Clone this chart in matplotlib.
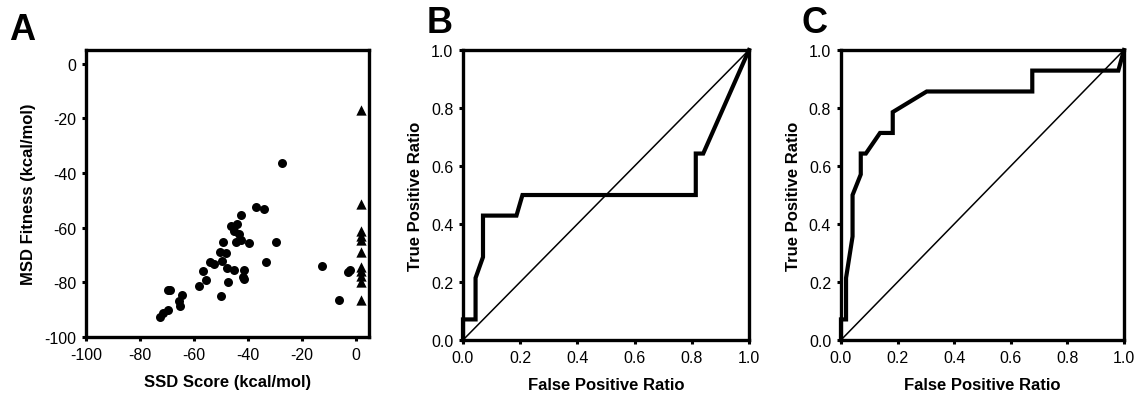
import matplotlib
matplotlib.use("Agg")
import matplotlib.pyplot as plt

plt.rcParams['font.family'] = ['Liberation Sans', 'DejaVu Sans']
plt.rcParams['axes.unicode_minus'] = False

# Panel A: SSD score vs MSD fitness
ssd_circles = [-27.3, -37.0, -33.8, -42.6, -46.2, -44.1, -45.0, -43.1, -49.1, -44.5,
               -42.5, -39.4, -29.6, -50.3, -48.1, -54.0, -52.5, -49.7, -47.8, -45.0,
               -41.3, -33.3, -56.5, -41.6, -41.4, -55.6, -47.5, -58.1, -69.7, -68.8,
               -64.5, -49.9, -65.4, -65.1, -69.7, -71.5, -72.5, -12.5, -2.0, -2.9, -6.0]
msd_circles = [-36.3, -52.3, -53.2, -55.3, -59.5, -58.7, -61.1, -62.3, -65.4, -65.4,
               -64.5, -65.6, -65.1, -69.0, -69.4, -72.5, -73.3, -72.1, -74.9, -75.4,
               -75.5, -72.7, -76.0, -77.9, -78.8, -79.0, -79.8, -81.5, -82.8, -82.7,
               -84.5, -84.9, -87.0, -88.5, -90.1, -91.3, -92.8, -74.2, -75.5, -76.3, -86.4]
ssd_triangles = [2.0] * 11
msd_triangles = [-16.8, -51.5, -61.3, -62.9, -64.5, -68.9, -74.5, -75.8, -77.8, -80.0, -86.3]

# Panel B ROC curve
fpr_b = [0.0, 0.0, 0.044, 0.044, 0.07, 0.07, 0.187, 0.208, 0.814, 0.814, 0.84, 1.0]
tpr_b = [0.0, 0.071, 0.071, 0.214, 0.286, 0.429, 0.429, 0.5, 0.5, 0.643, 0.643, 1.0]

# Panel C ROC curve
fpr_c = [0.0, 0.0, 0.018, 0.018, 0.041, 0.041, 0.07, 0.07, 0.088, 0.138, 0.183,
         0.183, 0.303, 0.676, 0.676, 0.98, 1.0]
tpr_c = [0.0, 0.071, 0.071, 0.214, 0.357, 0.5, 0.571, 0.643, 0.643, 0.714, 0.714,
         0.786, 0.857, 0.857, 0.929, 0.929, 1.0]

ab_ticks = [-100, -80, -60, -40, -20, 0]
roc_ticks = [0.0, 0.2, 0.4, 0.6, 0.8, 1.0]

fig = plt.figure(figsize=(11.44, 4.02), dpi=100)
axA = fig.add_axes([0.0752, 0.1592, 0.2474, 0.714])
axB = fig.add_axes([0.4047, 0.1517, 0.25, 0.7214])
axC = fig.add_axes([0.7351, 0.1517, 0.2474, 0.7214])

def style(ax):
    for sp in ax.spines.values():
        sp.set_linewidth(2.4)
    ax.tick_params(direction='out', length=3, width=2.2, labelsize=11.5, pad=4)

# Panel A
axA.scatter(ssd_circles, msd_circles, s=42, c='black', marker='o', linewidths=0, zorder=3)
axA.scatter(ssd_triangles, msd_triangles, s=55, c='black', marker='^', linewidths=0,
            zorder=3, clip_on=False)
axA.set_xlim(-100, 5)
axA.set_ylim(-100, 5)
axA.set_xticks(ab_ticks)
axA.set_yticks(ab_ticks)
axA.set_xlabel('SSD Score (kcal/mol)', fontsize=12, fontweight='bold', labelpad=9)
axA.set_ylabel('MSD Fitness (kcal/mol)', fontsize=12, fontweight='bold', labelpad=6)
style(axA)

for ax, fpr, tpr in ((axB, fpr_b, tpr_b), (axC, fpr_c, tpr_c)):
    ax.plot([0, 1], [0, 1], color='black', lw=1.1, zorder=2)
    ax.plot(fpr, tpr, color='black', lw=3.0, solid_joinstyle='miter', zorder=3, clip_on=False)
    ax.set_xlim(0, 1)
    ax.set_ylim(0, 1)
    ax.set_xticks(roc_ticks)
    ax.set_yticks(roc_ticks)
    ax.set_xticklabels([f'{t:.1f}' for t in roc_ticks])
    ax.set_yticklabels([f'{t:.1f}' for t in roc_ticks])
    ax.set_xlabel('False Positive Ratio', fontsize=12, fontweight='bold', labelpad=9)
    ax.set_ylabel('True Positive Ratio', fontsize=12, fontweight='bold', labelpad=6)
    style(ax)

for letter, x, y in (('A', 0.008, 0.968), ('B', 0.373, 0.985), ('C', 0.701, 0.985)):
    fig.text(x, y, letter, fontsize=26, fontweight='bold', va='top', ha='left')

fig.savefig('out.png', dpi=100)
